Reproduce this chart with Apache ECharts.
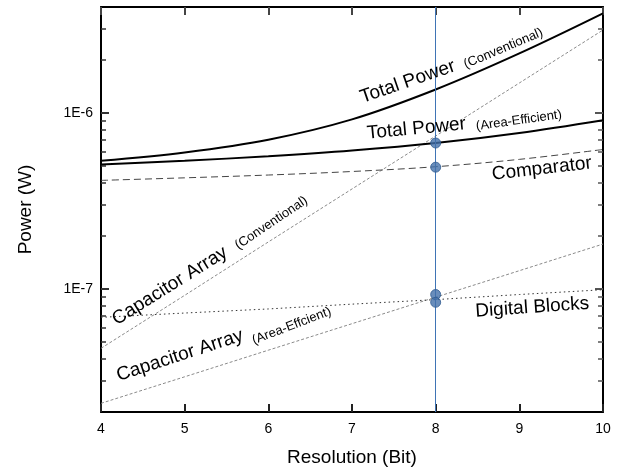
<!DOCTYPE html>
<html><head><meta charset="utf-8">
<script src="https://cdn.jsdelivr.net/npm/echarts@6/dist/echarts.min.js"></script>
<style>html,body{margin:0;padding:0;background:#fff}#c{width:628px;height:474px}</style>
</head><body><div id="c"></div>
<script>
// ---- data ----
const resolution = [4, 5, 6, 7, 8, 9, 10];
const totalConventional = [5.35e-7, 5.97e-7, 7.05e-7, 9.2e-7, 1.36e-6, 2.18e-6, 3.68e-6];
const totalAreaEfficient = [5.1e-7, 5.35e-7, 5.68e-7, 6.12e-7, 6.75e-7, 7.7e-7, 9.1e-7];
const comparator = [4.14e-7, 4.28e-7, 4.44e-7, 4.65e-7, 4.95e-7, 5.45e-7, 6.2e-7];
const capConventional = [4.6e-8, 9.2e-8, 1.85e-7, 3.7e-7, 7.4e-7, 1.48e-6, 2.96e-6];
const capAreaEfficient = [2.24e-8, 3.17e-8, 4.49e-8, 6.35e-8, 8.98e-8, 1.27e-7, 1.8e-7];
const digitalBlocks = [6.9e-8, 7.3e-8, 7.7e-8, 8.2e-8, 8.7e-8, 9.3e-8, 9.9e-8];
const markerX = 8;
const markerValues = [6.75e-7, 4.92e-7, 9.3e-8, 8.4e-8];
const yMajorTicks = [1e-7, 1e-6];
const yMinorTicks = [3e-8, 4e-8, 5e-8, 6e-8, 7e-8, 8e-8, 9e-8,
  2e-7, 3e-7, 4e-7, 5e-7, 6e-7, 7e-7, 8e-7, 9e-7, 2e-6, 3e-6];
const xMin = 4, xMax = 10, yMin = 2e-8, yMax = 4e-6;

const FONT = '"Liberation Sans", Arial, Helvetica, sans-serif';
const BLACK = '#000';
const pair = (xs, ys) => xs.map((x, i) => [x, ys[i]]);

function tickOnlyY(pos, offset, ticks, len, width, color) {
  return { type: 'log', min: yMin, max: yMax, position: pos, offset: offset,
    axisLine: { show: false },
    axisTick: { show: true, inside: false, length: len, customValues: ticks, lineStyle: { color: color, width: width } },
    axisLabel: { show: false }, splitLine: { show: false } };
}
function tickOnlyX(pos, color) {
  return { type: 'value', min: xMin, max: xMax, interval: 1, position: pos, offset: -8,
    axisLine: { show: false, onZero: false },
    axisTick: { show: true, inside: false, length: 8, lineStyle: { color: color, width: 2 } },
    axisLabel: { show: false }, splitLine: { show: false } };
}
function lineSeries(name, data, style, smooth) {
  return { name, type: 'line', data: pair(resolution, data),
    showSymbol: false, symbol: 'none', smooth: smooth || false, lineStyle: style, z: 3, silent: true };
}
function label(text, x, y, deg, size) {
  return { type: 'text', x: x, y: y, rotation: deg * Math.PI / 180, z: 100, silent: true,
    style: { text: text, font: size + 'px ' + FONT, fill: BLACK,
      textAlign: 'left', textVerticalAlign: 'bottom', align: 'left', verticalAlign: 'bottom' } };
}

const chart = echarts.init(document.getElementById('c'));
chart.setOption({
  animation: false,
  grid: { left: 101, right: 25, top: 7, bottom: 62 },
  xAxis: [
    { type: 'value', min: xMin, max: xMax, interval: 1, position: 'bottom',
      axisLine: { show: true, onZero: false, lineStyle: { color: BLACK, width: 2 } },
      axisTick: { show: false },
      axisLabel: { color: BLACK, fontSize: 14, fontFamily: FONT, margin: 10 }, splitLine: { show: false },
      name: 'Resolution (Bit)', nameLocation: 'middle', nameGap: 36,
      nameTextStyle: { color: BLACK, fontSize: 19, fontFamily: FONT } },
    { type: 'value', min: xMin, max: xMax, interval: 1, position: 'top',
      axisLine: { show: true, onZero: false, lineStyle: { color: BLACK, width: 2 } },
      axisTick: { show: false }, axisLabel: { show: false }, splitLine: { show: false } },
    tickOnlyX('bottom', '#222222'),
    tickOnlyX('top', '#444444')
  ],
  yAxis: [
    { type: 'log', min: yMin, max: yMax, position: 'left',
      axisLine: { show: true, lineStyle: { color: BLACK, width: 2 } },
      axisTick: { show: false },
      axisLabel: { customValues: yMajorTicks, color: BLACK, fontSize: 14, fontFamily: FONT, margin: 8,
        formatter: v => '1E' + Math.round(Math.log10(v)) },
      splitLine: { show: false },
      name: 'Power (W)', nameLocation: 'middle', nameGap: 66,
      nameTextStyle: { color: BLACK, fontSize: 19, fontFamily: FONT } },
    { type: 'log', min: yMin, max: yMax, position: 'right',
      axisLine: { show: true, lineStyle: { color: BLACK, width: 2 } },
      axisTick: { show: false }, axisLabel: { show: false }, splitLine: { show: false } },
    tickOnlyY('left', -8, yMajorTicks, 8, 2, '#333333'),
    tickOnlyY('left', -5, yMinorTicks, 5, 1.5, '#333333'),
    tickOnlyY('right', -8, yMajorTicks, 8, 2, '#555555'),
    tickOnlyY('right', -5, yMinorTicks, 5, 1.5, '#555555')
  ],
  series: [
    lineSeries('Capacitor Array (Conventional)', capConventional, { color: '#8a8a8a', width: 1, type: [3, 2] }),
    lineSeries('Capacitor Array (Area-Effcient)', capAreaEfficient, { color: '#8a8a8a', width: 1, type: [3, 2] }),
    lineSeries('Digital Blocks', digitalBlocks, { color: '#333', width: 1, type: [1.5, 3] }),
    lineSeries('Comparator', comparator, { color: '#444', width: 1, type: [7, 4] }, 0.35),
    lineSeries('Total Power (Area-Efficient)', totalAreaEfficient, { color: BLACK, width: 2 }, 0.35),
    lineSeries('Total Power (Conventional)', totalConventional, { color: BLACK, width: 2 }, 0.35),
    { name: '8 bit', type: 'scatter', z: 5, silent: true,
      data: markerValues.map(v => [markerX, v]), symbolSize: 10,
      itemStyle: { color: '#4471aa', borderColor: '#2f5a8e', borderWidth: 1 },
      markLine: { silent: true, symbol: ['none', 'none'], label: { show: false },
        lineStyle: { color: '#3f74b5', width: 1, type: 'solid' },
        data: [{ xAxis: markerX }] } }
  ],
  graphic: [
    label('Total Power', 364, 107, 19, 19),
    label('(Conventional)', 467, 71, 23, 13),
    label('Total Power', 368, 143, 5.5, 19),
    label('(Area-Efficient)', 477, 133, 8, 13),
    label('Comparator', 493, 184, 6.5, 19),
    label('Digital Blocks', 476, 321, 4, 19),
    label('Capacitor Array', 119, 329, 32, 19),
    label('(Conventional)', 240, 252, 34, 13),
    label('Capacitor Array', 120, 385, 18, 19),
    label('(Area-Effcient)', 255, 347, 21, 13)
  ]
});
</script></body></html>
